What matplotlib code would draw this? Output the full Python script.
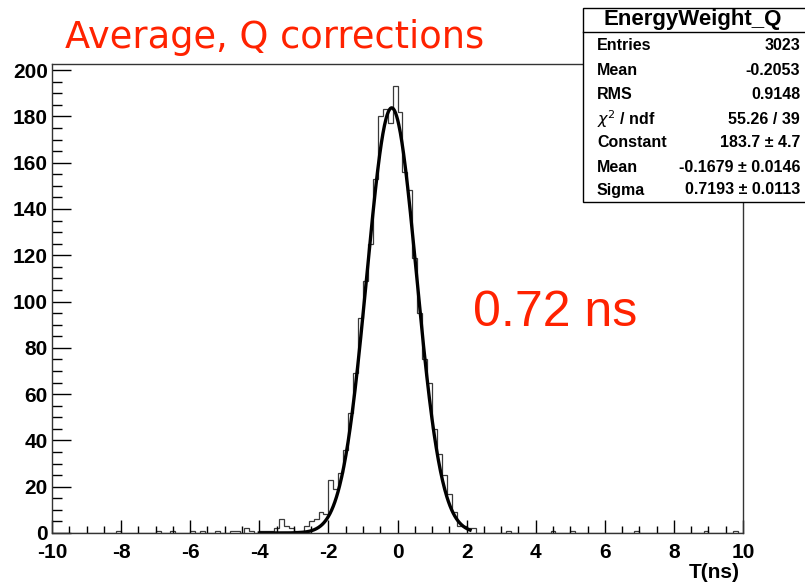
import numpy as np
import matplotlib.pyplot as plt
from matplotlib.patches import Rectangle
from matplotlib.lines import Line2D
from matplotlib.ticker import MultipleLocator

plt.rcParams['axes.unicode_minus'] = False

# histogram binning (140 bins over -10..10 ns)
n_bins = 140
x_range = (-10.0, 10.0)

# bin contents, starting at the bin [-4.0, -3.857]
core_start = -4.0
core_counts = [1, 1, 1, 2, 6, 3, 2, 1, 1, 3,
               5, 6, 9, 8, 23, 19, 26, 36, 52, 69,
               93, 109, 125, 153, 180, 183, 177, 193, 182, 156,
               148, 119, 95, 75, 65, 45, 34, 25, 17, 9,
               3, 3, 2, 2]

# single entries far out in the tails (ns)
tail_entries = [-8.1, -6.9, -6.5, -6.0, -5.6, -5.2, -4.85, -4.6, -4.3, -4.3, -4.15,
                3.25, 4.55, 5.13, 6.96, 8.98, 9.83]

# gaussian fit result
fit_const = 183.7
fit_mean = -0.1679
fit_sigma = 0.7193
fit_range = (-4.0, 2.1)

stats_title = 'EnergyWeight_Q'
stats_labels = ['Entries', 'Mean', 'RMS', r'$\chi^{2}$ / ndf', 'Constant', 'Mean', 'Sigma']
stats_values = ['3023', '-0.2053', '0.9148', '55.26 / 39',
                '183.7 \u00b1 4.7', '-0.1679 \u00b1 0.0146', '0.7193 \u00b1 0.0113']

title_text = 'Average, Q corrections'
note_text = '0.72 ns'
xlabel_text = 'T(ns)'

W, H = 805, 583
red = '#ff2200'

# build the full histogram
edges = np.linspace(x_range[0], x_range[1], n_bins + 1)
counts, _ = np.histogram(tail_entries, bins=edges)
counts = counts.astype(float)
i0 = int(round((core_start - x_range[0]) / (edges[1] - edges[0])))
counts[i0:i0 + len(core_counts)] += core_counts

fig = plt.figure(figsize=(W / 100, H / 100), dpi=100)
ax = fig.add_axes([52 / W, 1 - 533 / H, (743 - 52) / W, (533 - 64) / H])

ax.stairs(counts, edges, color='#3a3a3a', lw=0.9)

xf = np.linspace(fit_range[0], fit_range[1], 400)
yf = fit_const * np.exp(-0.5 * ((xf - fit_mean) / fit_sigma) ** 2)
ax.plot(xf, yf, color='black', lw=2.4)

ax.set_xlim(*x_range)
ax.set_ylim(0, 1.05 * counts.max())

ax.xaxis.set_major_locator(MultipleLocator(2))
ax.xaxis.set_minor_locator(MultipleLocator(0.5))
ax.yaxis.set_major_locator(MultipleLocator(20))
ax.yaxis.set_minor_locator(MultipleLocator(5))
ax.tick_params(axis='x', which='major', direction='in', length=9.5, width=1, pad=7)
ax.tick_params(axis='x', which='minor', direction='in', length=5, width=1)
ax.tick_params(axis='y', which='major', direction='in', length=14, width=1, pad=3)
ax.tick_params(axis='y', which='minor', direction='in', length=7, width=1)
for lab in ax.get_xticklabels() + ax.get_yticklabels():
    lab.set_fontfamily('Liberation Sans')
    lab.set_fontweight('bold')
    lab.set_fontsize(15)
for s in ax.spines.values():
    s.set_color('#333333')
    s.set_linewidth(1.0)

fig.text(740 / W, 1 - 572 / H, xlabel_text, ha='right', va='center',
         fontfamily='Liberation Sans', fontweight='bold', fontsize=15)

# red annotations
fig.text(65 / W, 1 - 48 / H, title_text, ha='left', va='baseline',
         color=red, fontfamily='DejaVu Sans', fontsize=26.5)
fig.text(473 / W, 1 - 326 / H, note_text, ha='left', va='baseline',
         color=red, fontfamily='Liberation Sans', fontsize=36)

# stats box
box = Rectangle((583 / W, 1 - 202 / H), (815 - 583) / W, (202 - 8) / H,
                transform=fig.transFigure, fc='white', ec='black', lw=1.0)
fig.patches.append(box)
fig.lines.append(Line2D([583 / W, 1.0], [1 - 32 / H, 1 - 32 / H],
                        transform=fig.transFigure, color='black', lw=1.0))
fig.text(693 / W, 1 - 20 / H, stats_title, ha='center', va='center',
         fontfamily='Liberation Sans', fontweight='bold', fontsize=16)
row_y = [45, 70.5, 94.5, 119, 143, 167, 190]
for lab, val, y in zip(stats_labels, stats_values, row_y):
    fig.text(597 / W, 1 - y / H, lab, ha='left', va='center',
             fontfamily='Liberation Sans', fontweight='bold', fontsize=11.5)
    fig.text(800 / W, 1 - y / H, val, ha='right', va='center',
             fontfamily='Liberation Sans', fontweight='bold', fontsize=11.5)

fig.savefig('out.png', dpi=100)
